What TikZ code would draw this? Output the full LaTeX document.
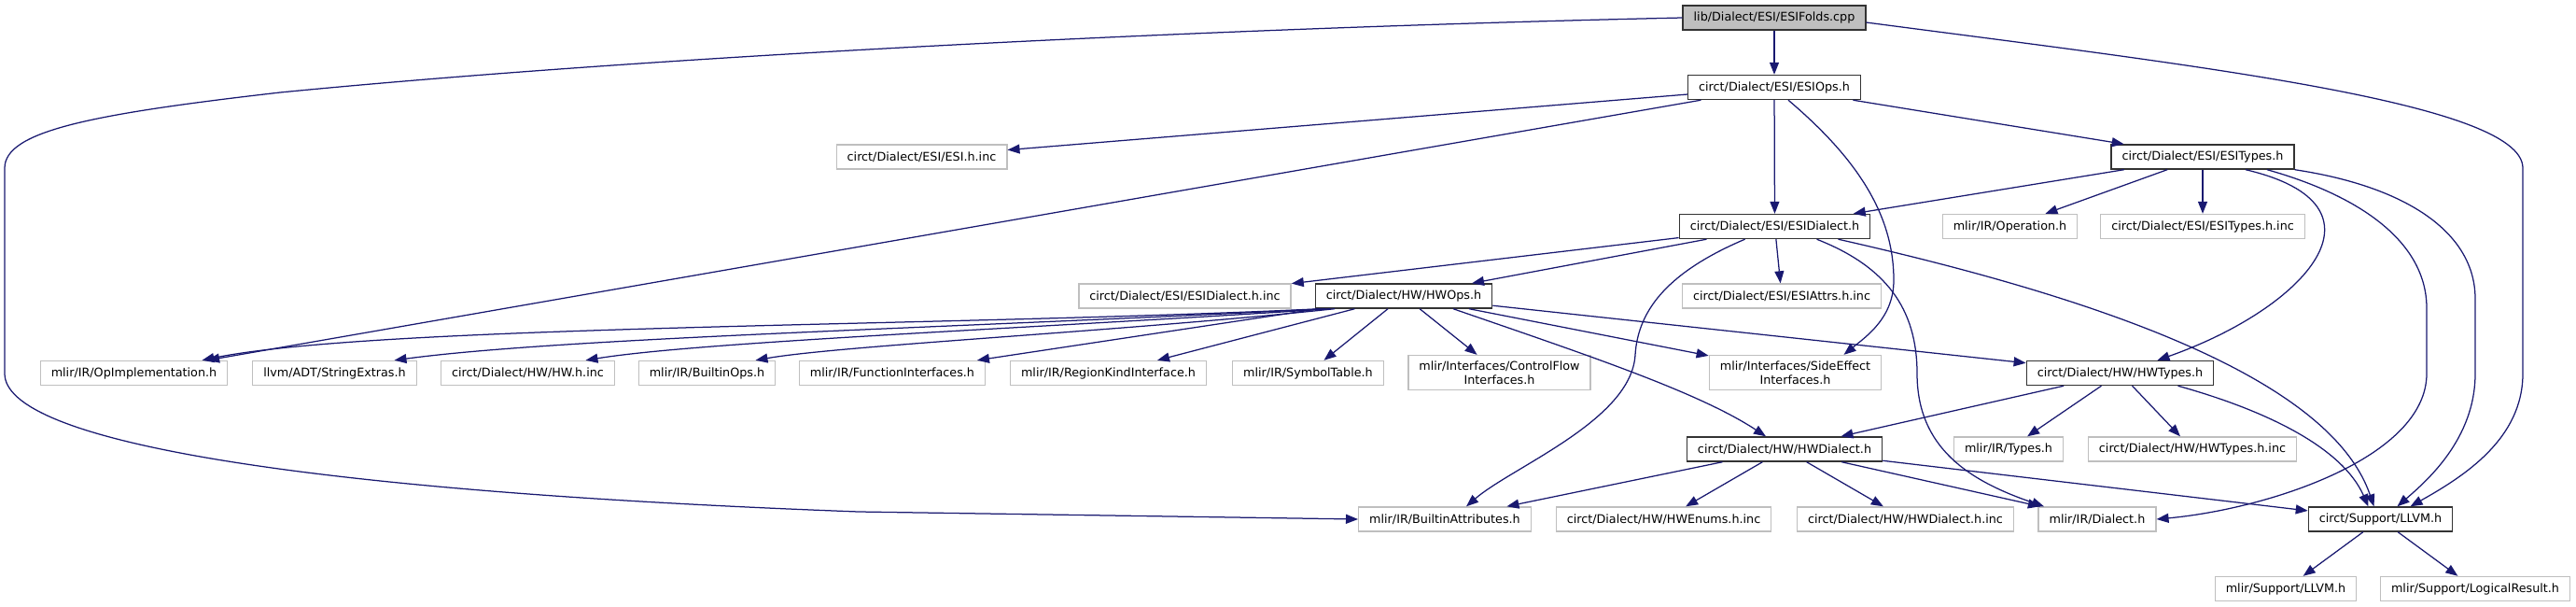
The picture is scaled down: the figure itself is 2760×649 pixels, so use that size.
\documentclass[tikz,border=0pt]{standalone}
\usepackage{fontspec}
\setmainfont{DejaVu Sans}
\usepackage{xcolor}
\usepackage{tikz}
\usetikzlibrary{arrows.meta}
\definecolor{edgeblue}{RGB}{25,25,112}
\definecolor{extgray}{RGB}{191,191,191}
\definecolor{rootfill}{RGB}{191,191,191}

\begin{document}
\begin{tikzpicture}[x=1pt, y=-1pt,
  hdr/.style={draw, line width=1.4pt, minimum height=26pt, inner xsep=11.5pt, inner ysep=6pt, font=\fontsize{12.75}{15}\selectfont, align=center},
  doc/.style={hdr, draw=black!80},
  ext/.style={hdr, draw=extgray},
  root/.style={hdr, draw=black!80, fill=rootfill},
  dep/.style={draw=edgeblue, line width=1.25pt, -{Triangle[length=13pt,width=10pt]}}
]
  \useasboundingbox (0,0) rectangle (2760,649);

  % files
  \node[root] (folds) at (1901,19) {lib/Dialect/ESI/ESIFolds.cpp};
  \node[doc] (esiops) at (1901,93.5) {circt/Dialect/ESI/ESIOps.h};
  \node[ext] (esiinc) at (987.5,168) {circt/Dialect/ESI/ESI.h.inc};
  \node[doc] (esitypes) at (2360,168) {circt/Dialect/ESI/ESITypes.h};
  \node[doc] (esidialect) at (1901.5,242.5) {circt/Dialect/ESI/ESIDialect.h};
  \node[ext] (operation) at (2153.5,242.5) {mlir/IR/Operation.h};
  \node[ext] (esitypesinc) at (2360,242.5) {circt/Dialect/ESI/ESITypes.h.inc};
  \node[ext] (esidialectinc) at (1269.5,317) {circt/Dialect/ESI/ESIDialect.h.inc};
  \node[doc] (hwops) at (1504,317) {circt/Dialect/HW/HWOps.h};
  \node[ext] (esiattrs) at (1909,317) {circt/Dialect/ESI/ESIAttrs.h.inc};
  \node[ext] (opimpl) at (143.5,399.5) {mlir/IR/OpImplementation.h};
  \node[ext] (strext) at (358.5,399.5) {llvm/ADT/StringExtras.h};
  \node[ext] (hwinc) at (565.5,399.5) {circt/Dialect/HW/HW.h.inc};
  \node[ext] (builtinops) at (757.5,399.5) {mlir/IR/BuiltinOps.h};
  \node[ext] (funcif) at (956,399.5) {mlir/IR/FunctionInterfaces.h};
  \node[ext] (regionkind) at (1187.5,399.5) {mlir/IR/RegionKindInterface.h};
  \node[ext] (symtab) at (1401.5,399.5) {mlir/IR/SymbolTable.h};
  \node[ext] (ctrlflow) at (1606.5,399) {mlir/Interfaces/ControlFlow\\Interfaces.h};
  \node[ext] (sideeff) at (1923.5,399) {mlir/Interfaces/SideEffect\\Interfaces.h};
  \node[doc] (hwtypes) at (2271.5,399.5) {circt/Dialect/HW/HWTypes.h};
  \node[doc] (hwdialect) at (1912,481) {circt/Dialect/HW/HWDialect.h};
  \node[ext] (irtypes) at (2152,481) {mlir/IR/Types.h};
  \node[ext] (hwtypesinc) at (2349,481) {circt/Dialect/HW/HWTypes.h.inc};
  \node[ext] (builtinattr) at (1548,556) {mlir/IR/BuiltinAttributes.h};
  \node[ext] (hwenums) at (1782.5,556) {circt/Dialect/HW/HWEnums.h.inc};
  \node[ext] (hwdialectinc) at (2041.5,556) {circt/Dialect/HW/HWDialect.h.inc};
  \node[ext] (irdialect) at (2247,556) {mlir/IR/Dialect.h};
  \node[doc] (circtllvm) at (2550.5,556) {circt/Support/LLVM.h};
  \node[ext] (mlirllvm) at (2449,630.5) {mlir/Support/LLVM.h};
  \node[ext] (logicres) at (2652,630.5) {mlir/Support/LogicalResult.h};

  % includes
  \draw[dep] (folds) -- (esiops);
  \draw[dep] (folds.west) .. controls (1300,30) and (700,60) .. (300,99)
    .. controls (100,122) and (5,140) .. (5,180) -- (5,400)
    .. controls (5,470) and (300,525) .. (920,548) -- (builtinattr.west);
  \draw[dep] ([yshift=-5pt]folds.east) .. controls (2350,70) and (2703,110) .. (2703,180) -- (2703,400)
    .. controls (2703,470) and (2640,510) .. ([xshift=32pt]circtllvm.north);

  \draw[dep] (esiops) -- (esiinc);
  \draw[dep] (esiops) -- (opimpl);
  \draw[dep] (esiops) -- (esidialect);
  \draw[dep] (esiops) -- (esitypes);
  \draw[dep] ([xshift=15pt]esiops.south) .. controls (1990,170) and (2029,230) .. (2029,300)
    .. controls (2029,340) and (2000,360) .. ([xshift=52pt]sideeff.north);

  \draw[dep] (esitypes) -- (esidialect);
  \draw[dep] (esitypes) -- (operation);
  \draw[dep] (esitypes) -- (esitypesinc);
  \draw[dep] ([xshift=46pt]esitypes.south) .. controls (2570,220) and (2470,330) .. ([xshift=40pt]hwtypes.north);
  \draw[dep] ([xshift=69pt]esitypes.south) .. controls (2530,210) and (2600,260) .. (2600,330) -- (2600,400)
    .. controls (2600,490) and (2430,545) .. (irdialect.east);
  \draw[dep] (esitypes.south east) .. controls (2580,200) and (2652,250) .. (2652,320) -- (2652,400)
    .. controls (2652,470) and (2600,515) .. ([xshift=18pt]circtllvm.north);

  \draw[dep] (esidialect) -- (esidialectinc);
  \draw[dep] (esidialect) -- (hwops);
  \draw[dep] (esidialect) -- (esiattrs);
  \draw[dep] ([xshift=-32pt]esidialect.south) .. controls (1790,290) and (1755,330) .. (1752,380)
    .. controls (1748,450) and (1620,500) .. ([xshift=23pt]builtinattr.north);
  \draw[dep] ([xshift=45pt]esidialect.south) .. controls (2020,285) and (2054,330) .. (2054,400)
    .. controls (2054,480) and (2110,515) .. ([xshift=-57pt]irdialect.north);
  \draw[dep] ([xshift=68pt]esidialect.south) .. controls (2230,315) and (2495,400) .. ([xshift=-7pt]circtllvm.north);

  \draw[dep] ([xshift=-89pt]hwops.south) .. controls (1000,350) and (400,348) .. ([xshift=73pt]opimpl.north);
  \draw[dep] ([xshift=-84pt]hwops.south) .. controls (1000,352) and (600,362) .. ([xshift=64pt]strext.north);
  \draw[dep] ([xshift=-79pt]hwops.south) .. controls (1100,352) and (750,366) .. ([xshift=62pt]hwinc.north);
  \draw[dep] ([xshift=-74pt]hwops.south) .. controls (1200,355) and (900,370) .. ([xshift=52pt]builtinops.north);
  \draw[dep] (hwops) -- (funcif);
  \draw[dep] (hwops) -- (regionkind);
  \draw[dep] (hwops) -- (symtab);
  \draw[dep] (hwops) -- (ctrlflow);
  \draw[dep] (hwops) -- (sideeff);
  \draw[dep] (hwops) -- (hwtypes);
  \draw[dep] ([xshift=53pt]hwops.south) .. controls (1700,380) and (1820,420) .. ([xshift=-20pt]hwdialect.north);

  \draw[dep] (hwtypes) -- (hwdialect);
  \draw[dep] (hwtypes) -- (irtypes);
  \draw[dep] (hwtypes) -- (hwtypesinc);
  \draw[dep] ([xshift=62pt]hwtypes.south) .. controls (2430,440) and (2510,480) .. ([xshift=-13pt]circtllvm.north);

  \draw[dep] (hwdialect) -- (builtinattr);
  \draw[dep] (hwdialect) -- (hwenums);
  \draw[dep] (hwdialect) -- (hwdialectinc);
  \draw[dep] (hwdialect) -- (irdialect);
  \draw[dep] (hwdialect) -- (circtllvm);

  \draw[dep] (circtllvm) -- (mlirllvm);
  \draw[dep] (circtllvm) -- (logicres);
\end{tikzpicture}
\end{document}
